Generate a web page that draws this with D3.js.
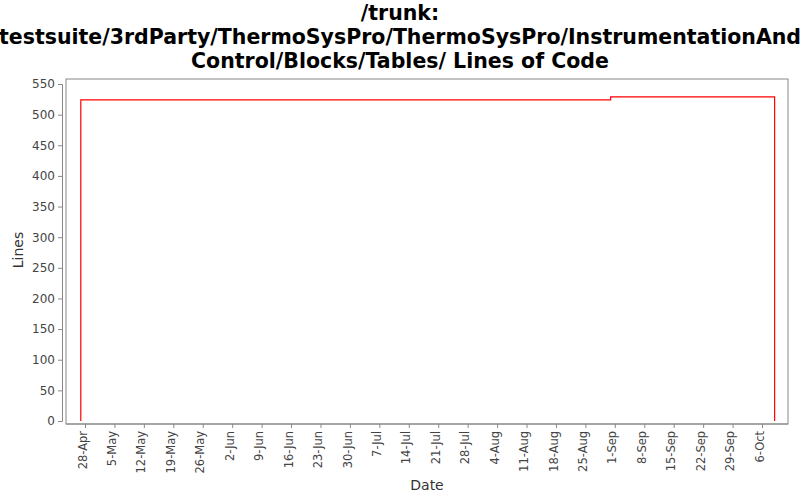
<!DOCTYPE html><html><head><meta charset="utf-8"><script src="https://cdn.jsdelivr.net/npm/d3@7"></script>
<style>body{margin:0;background:#fff}</style></head><body><svg width="800" height="500"></svg><script>
const dates=["2008-04-27","2008-08-31","2008-10-09"];
const values=[524,529,529];
const yTicks=[0,50,100,150,200,250,300,350,400,450,500,550];
const tickLabels=["28-Apr","5-May","12-May","19-May","26-May","2-Jun","9-Jun","16-Jun","23-Jun","30-Jun","7-Jul","14-Jul","21-Jul","28-Jul","4-Aug","11-Aug","18-Aug","25-Aug","1-Sep","8-Sep","15-Sep","22-Sep","29-Sep","6-Oct"];
const svg=d3.select("svg"),F="DejaVu Sans, sans-serif";
const L=66,R=788,T=79,B=421;
const p=d3.timeParse("%Y-%m-%d");
const t0=p("2008-04-28");
const x=d3.scaleTime().domain([t0,d3.timeDay.offset(t0,161)]).range([85,762]);
const y=d3.scaleLinear().domain([0,550]).range([B,84]);
const tt=svg.append("g").attr("text-anchor","middle").attr("font-family",F).attr("font-weight","bold").attr("font-size",20.5).attr("fill","#000");
["/trunk:","testsuite/3rdParty/ThermoSysPro/ThermoSysPro/InstrumentationAnd","Control/Blocks/Tables/ Lines of Code"].forEach((s,i)=>tt.append("text").attr("x",400).attr("y",20+i*24).text(s));
svg.append("rect").attr("x",L).attr("y",T).attr("width",R-L).attr("height",B+3-T).attr("fill","#fff").attr("stroke","#888");
const ya=svg.append("g").attr("transform","translate(62,0)").call(d3.axisLeft(y).tickValues(yTicks).tickSize(4));
const tickDates=tickLabels.map((l,i)=>d3.timeDay.offset(t0,7*i));
const xa=svg.append("g").attr("transform",`translate(0,${B+3})`).call(d3.axisBottom(x).tickValues(tickDates).tickFormat((d,i)=>tickLabels[i]).tickSize(4));
xa.select(".domain").attr("d",`M${L},0H${R}`);
[ya,xa].forEach(a=>{a.selectAll("path,line").attr("stroke","#888");a.selectAll("text").attr("font-family",F).attr("font-size",12).attr("fill","#444");});
xa.selectAll("text").attr("font-size",11.5).attr("transform","rotate(-90)").attr("text-anchor","end").attr("dx","-0.6em").attr("dy","-0.25em").attr("x",0).attr("y",4);
const pts=[{d:p(dates[0]),v:0}];
dates.forEach((d,i)=>pts.push({d:p(d),v:values[i]}));
pts.push({d:p(dates[2]),v:0});
svg.append("path").datum(pts).attr("fill","none").attr("stroke","#f00").attr("stroke-width",1.2)
 .attr("d",d3.line().x(d=>x(d.d)).y(d=>y(d.v)).curve(d3.curveStepAfter));
svg.append("text").attr("x",427).attr("y",490).attr("text-anchor","middle").attr("font-family",F).attr("font-size",14).attr("fill","#333").text("Date");
svg.append("text").attr("transform","translate(23,250) rotate(-90)").attr("text-anchor","middle").attr("font-family",F).attr("font-size",14).attr("fill","#333").text("Lines");
</script></body></html>
